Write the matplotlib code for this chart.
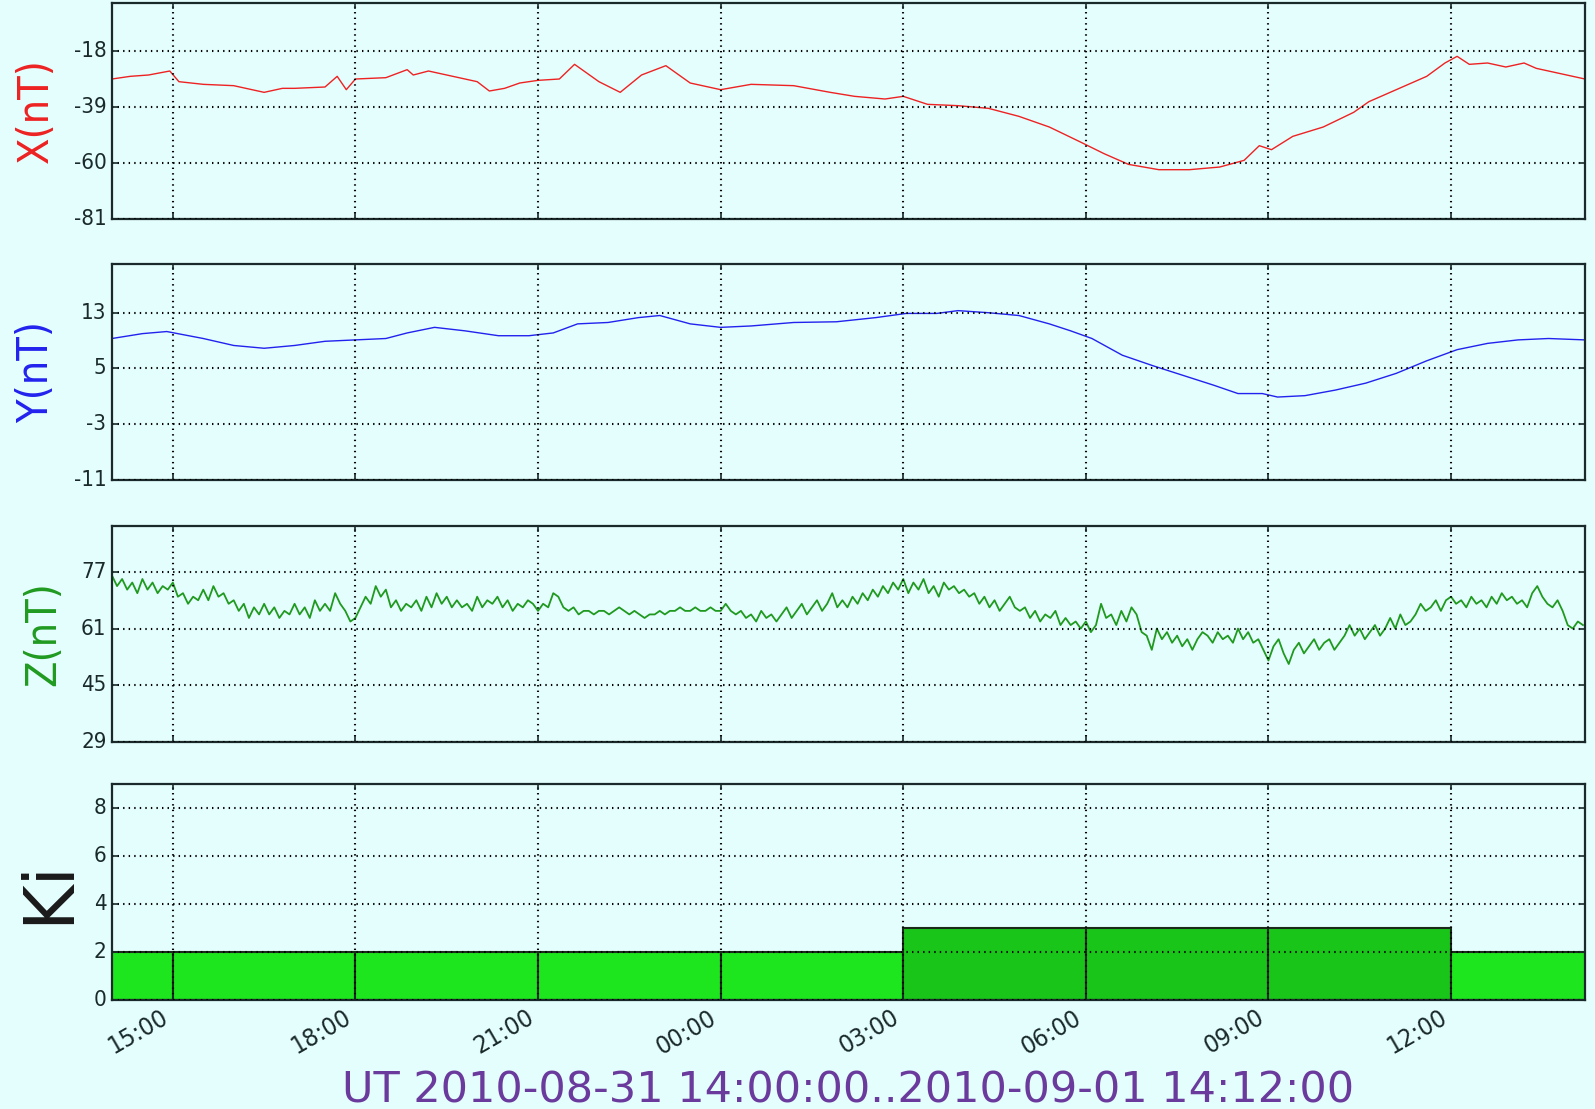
import os
import numpy as np
import matplotlib
matplotlib.use('Agg')
import matplotlib.pyplot as plt
import matplotlib.dates as mdates
from matplotlib import font_manager

plt.style.use('classic')
plt.rcParams['axes.unicode_minus'] = False

# Inicio de la ventana y lecturas (horas desde 14:00 UT)
inicio = np.datetime64('2010-08-31T14:00')
fin = np.datetime64('2010-09-01T14:12')

# Componente X (nT)
horas_x = [0.0, 0.3, 0.6, 0.95, 1.1, 1.5, 2.0, 2.5, 2.8, 3.0, 3.5, 3.7, 3.85, 4.0, 4.5, 4.85,
           4.95, 5.2, 5.5, 6.0, 6.2, 6.45, 6.7, 7.0, 7.35, 7.6, 8.0, 8.35, 8.7, 9.1, 9.5,
           10.0, 10.5, 11.2, 11.8, 12.2, 12.7, 13.0, 13.4, 13.9, 14.4, 14.9, 15.4, 15.9,
           16.3, 16.7, 17.2, 17.7, 18.2, 18.6, 18.85, 19.05, 19.4, 19.9, 20.4, 20.65,
           21.1, 21.6, 21.9, 22.1, 22.3, 22.6, 22.9, 23.2, 23.4, 23.9, 24.2]
valores_x = [-28.5, -27.5, -27.0, -25.5, -29.5, -30.5, -31.0, -33.5, -32.0, -32.0, -31.5, -27.5,
             -32.5, -28.5, -28.0, -25.0, -27.0, -25.5, -27.0, -29.5, -33.0, -32.0, -30.0, -29.0,
             -28.5, -23.0, -29.5, -33.5, -27.0, -23.5, -30.0, -32.5, -30.5, -31.0, -33.5, -35.0,
             -36.0, -35.0, -38.0, -38.5, -39.5, -42.5, -46.5, -52.0, -56.5, -60.5, -62.5, -62.5,
             -61.5, -59.0, -53.5, -55.0, -50.0, -46.5, -41.0, -37.0, -32.5, -27.5, -22.5, -20.0,
             -23.0, -22.5, -24.0, -22.5, -24.5, -27.0, -28.5]

# Componente Y (nT)
horas_y = [0.0, 0.5, 0.9, 1.5, 2.0, 2.5, 3.0, 3.5, 4.0, 4.5, 4.85, 5.3, 5.8, 6.35, 6.85,
           7.25, 7.65, 8.15, 8.65, 9.0, 9.5, 10.0, 10.5, 11.2, 11.9, 12.55, 13.05, 13.55,
           13.9, 14.4, 14.9, 15.4, 15.75, 16.1, 16.6, 17.1, 17.6, 18.1, 18.5, 18.9, 19.15,
           19.6, 20.1, 20.6, 21.1, 21.6, 22.1, 22.6, 23.1, 23.6, 24.2]
valores_y = [9.3, 10.0, 10.3, 9.3, 8.3, 7.9, 8.3, 8.9, 9.1, 9.3, 10.1, 10.9, 10.4, 9.7, 9.7,
             10.1, 11.4, 11.6, 12.3, 12.6, 11.4, 10.9, 11.1, 11.6, 11.7, 12.3, 12.9, 12.9,
             13.3, 13.0, 12.6, 11.4, 10.4, 9.3, 6.9, 5.4, 4.0, 2.6, 1.4, 1.4, 0.9, 1.1, 1.9,
             2.9, 4.3, 6.1, 7.7, 8.6, 9.1, 9.3, 9.1]

# Componente Z (nT), una lectura cada 5 minutos desde las 14:00 (una fila por hora)
valores_z = [76, 73, 75, 72, 74, 71, 75, 72, 74, 71, 73, 72,
             74, 70, 71, 68, 70, 69, 72, 69, 73, 70, 71, 68,
             69, 66, 68, 64, 67, 65, 68, 65, 67, 64, 66, 65,
             68, 65, 67, 64, 69, 66, 68, 66, 71, 68, 66, 63,
             64, 67, 70, 68, 73, 70, 72, 67, 69, 66, 68, 67,
             69, 66, 70, 67, 71, 68, 70, 67, 69, 67, 68, 66,
             70, 67, 69, 68, 70, 67, 69, 66, 68, 67, 69, 68,
             66, 68, 67, 71, 70, 67, 66, 67, 65, 66, 66, 65,
             66, 66, 65, 66, 67, 66, 65, 66, 65, 64, 65, 65,
             66, 65, 66, 66, 67, 66, 66, 67, 66, 66, 67, 66,
             66, 68, 66, 65, 66, 64, 65, 63, 66, 64, 65, 63,
             65, 67, 64, 66, 68, 65, 67, 69, 66, 68, 71, 67,
             69, 67, 70, 68, 71, 69, 72, 70, 73, 71, 74, 72,
             75, 71, 74, 72, 75, 71, 73, 70, 74, 72, 73, 71,
             72, 70, 71, 68, 70, 67, 69, 66, 68, 70, 67, 66,
             67, 64, 66, 63, 65, 64, 66, 62, 64, 62, 63, 61,
             63, 60, 62, 68, 64, 65, 62, 66, 63, 67, 65, 60,
             59, 55, 61, 58, 60, 57, 59, 56, 58, 55, 58, 60,
             59, 57, 60, 58, 59, 57, 61, 58, 60, 57, 58, 55,
             52, 56, 58, 54, 51, 55, 57, 54, 56, 58, 55, 57,
             58, 55, 57, 59, 62, 59, 61, 58, 60, 62, 59, 61,
             64, 61, 65, 62, 63, 65, 68, 66, 67, 69, 66, 69,
             70, 68, 69, 67, 70, 68, 69, 67, 70, 68, 71, 69,
             70, 68, 69, 67, 71, 73, 70, 68, 67, 69, 66, 62,
             61, 63, 62]

# Índice Ki por intervalos de 3 horas
ki_inicio = ['2010-08-31T12:00', '2010-08-31T15:00', '2010-08-31T18:00', '2010-08-31T21:00',
             '2010-09-01T00:00', '2010-09-01T03:00', '2010-09-01T06:00', '2010-09-01T09:00',
             '2010-09-01T12:00']
ki_valores = [2, 2, 2, 2, 2, 3, 3, 3, 2]


def a_tiempo(horas):
    minutos = np.round(np.array(horas) * 60).astype('timedelta64[m]')
    return inicio + minutos


def fuente_estrecha(tam):
    # Busca una fuente condensada instalada; si no hay, usa la normal
    for nombre in ['DejaVuSansCondensed.ttf', 'LiberationSansNarrow-Regular.ttf']:
        for f in font_manager.fontManager.ttflist:
            if os.path.basename(f.fname) == nombre:
                return font_manager.FontProperties(fname=f.fname, size=tam)
    return font_manager.FontProperties(family='DejaVu Sans', size=tam)


t_x = a_tiempo(horas_x)
t_y = a_tiempo(horas_y)
t_z = inicio + np.arange(len(valores_z)) * np.timedelta64(5, 'm')
t_ki = np.array(ki_inicio, dtype='datetime64[m]')

fondo = '#e4fdfd'
fig = plt.figure(figsize=(15.95, 11.09), dpi=100, facecolor=fondo)

izq, ancho, alto = 0.0702, 0.9235, 0.1948
fondos = [0.8025, 0.5672, 0.331, 0.0983]
ejes = []
for b in fondos:
    ax = fig.add_axes([izq, b, ancho, alto], facecolor=fondo,
                      sharex=ejes[0] if ejes else None)
    ejes.append(ax)

ax_x, ax_y, ax_z, ax_ki = ejes
f_ticks = fuente_estrecha(16)
f_etiq = fuente_estrecha(31)

ax_x.plot(t_x, valores_x, color='#ee2222', lw=1.0)
ax_x.set_ylim(-81, 0)
ticks = [-81, -60, -39, -18]
ax_x.set_yticks(ticks, [str(t) for t in ticks], fontproperties=f_ticks)
ax_x.set_ylabel('X(nT)', color='#ee2222', fontproperties=f_etiq, labelpad=12)

ax_y.plot(t_y, valores_y, color='#2222ee', lw=1.0)
ax_y.set_ylim(-11, 20)
ticks = [-11, -3, 5, 13]
ax_y.set_yticks(ticks, [str(t) for t in ticks], fontproperties=f_ticks)
ax_y.set_ylabel('Y(nT)', color='#2222ee', fontproperties=f_etiq, labelpad=12)

ax_z.plot(t_z, valores_z, color='#1f9a1f', lw=1.3)
ax_z.set_ylim(29, 90)
ticks = [29, 45, 61, 77]
ax_z.set_yticks(ticks, [str(t) for t in ticks], fontproperties=f_ticks)
ax_z.set_ylabel('Z(nT)', color='#1f9a1f', fontproperties=f_etiq, labelpad=12)

colores_ki = ['#1ee61e' if k < 3 else '#19c519' for k in ki_valores]
ax_ki.bar(t_ki, ki_valores, width=np.timedelta64(3, 'h'), align='edge',
          color=colores_ki, edgecolor='#1a2a1a', linewidth=1.5)
ax_ki.set_ylim(0, 9)
ticks = [0, 2, 4, 6, 8]
ax_ki.set_yticks(ticks, [str(t) for t in ticks], fontproperties=f_ticks)
ax_ki.set_ylabel('Ki', color='#1a1a1a', fontsize=50, labelpad=8)

for ax in ejes:
    ax.set_xlim(inicio, fin)
    ax.grid(True, color='black', linestyle=':', linewidth=1.5)
    for s in ax.spines.values():
        s.set_linewidth(1.6)
        s.set_color('#1a2a2a')
    ax.tick_params(axis='both', colors='#1a2a2a', width=1.2)

ax_ki.xaxis.set_major_locator(mdates.HourLocator(byhour=range(0, 24, 3)))
ax_ki.xaxis.set_major_formatter(mdates.DateFormatter('%H:%M'))
for ax in ejes[:-1]:
    plt.setp(ax.get_xticklabels(), visible=False)
plt.setp(ax_ki.get_xticklabels(), rotation=30, ha='right',
         fontproperties=fuente_estrecha(18))

fig.text(0.532, -0.002, 'UT 2010-08-31 14:00:00..2010-09-01 14:12:00',
         color='#6a3a9c', fontsize=31, ha='center', va='bottom')

fig.savefig('out.png', dpi=100, facecolor=fondo)
